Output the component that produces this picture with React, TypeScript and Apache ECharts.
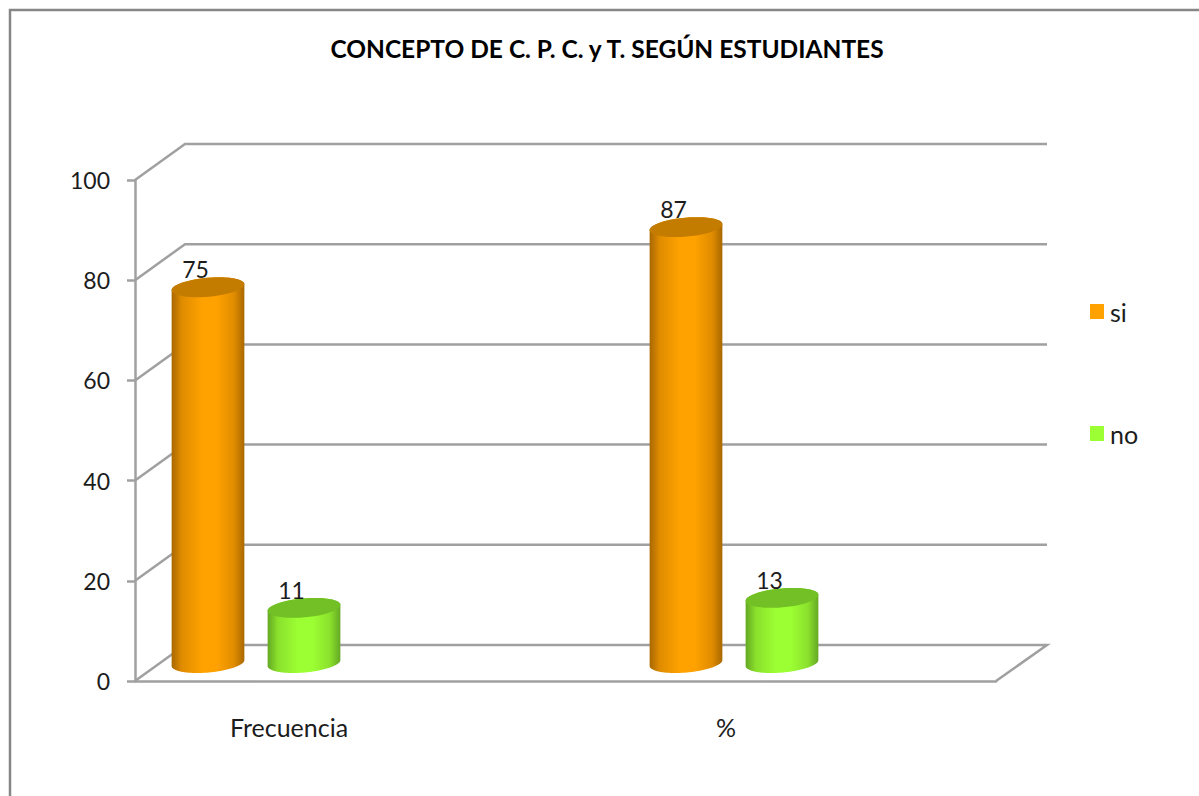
import React, { useEffect, useRef } from "react";
import * as echarts from "echarts";

const title = "CONCEPTO DE C. P. C. y T. SEGÚN ESTUDIANTES";
const categories = ["Frecuencia", "%"];
const siValues = [75, 87];
const noValues = [11, 13];
const yTicks = [0, 20, 40, 60, 80, 100];

const FONT = "Lato";
const TEXT = "#1c1c1c";
const GRID = "#a0a0a0";
const DEPTH_X = 50;
const DEPTH_Y = 36;
const RX = 36.5;
const RY = 9.5;
const TILT = (5 * Math.PI) / 180;
const STEPS = 48;

// A point on the tilted rim of a cylinder centred on (cx, cy).
function rim(cx: number, cy: number, t: number) {
  const ex = RX * Math.cos(t);
  const ey = RY * Math.sin(t);
  return [cx + ex * Math.cos(TILT) + ey * Math.sin(TILT), cy - ex * Math.sin(TILT) + ey * Math.cos(TILT)];
}
function rimArc(cx: number, cy: number, from: number, to: number) {
  const pts: number[][] = [];
  for (let k = 0; k <= STEPS; k++) pts.push(rim(cx, cy, from + ((to - from) * k) / STEPS));
  return pts;
}

function cylinderSeries(
  name: string,
  values: number[],
  offset: number,
  edge: string,
  shoulder: string,
  mid: string,
  top: string,
) {
  return {
    type: "custom",
    name,
    xAxisIndex: 1,
    yAxisIndex: 1,
    clip: false,
    itemStyle: { color: mid },
    encode: { x: 0, y: 1 },
    data: values.map((v, i) => [i, v]),
    renderItem: (_p: any, api: any) => {
      const i = api.value(0);
      const v = api.value(1);
      const [x, y] = api.coord([i, v]);
      const [, y0] = api.coord([i, 0]);
      const cx = x + offset;
      const topY = y - DEPTH_Y / 2;
      const botY = y0 - DEPTH_Y / 2;
      // Right end of the bottom rim, round its front, then back up over the top rim.
      const body = [...rimArc(cx, botY, 0, Math.PI), ...rimArc(cx, topY, Math.PI, 2 * Math.PI)];
      return {
        type: "group",
        children: [
          {
            type: "polygon",
            shape: { points: body },
            style: {
              fill: new echarts.graphic.LinearGradient(0, 0, 1, 0, [
                { offset: 0, color: edge },
                { offset: 0.14, color: shoulder },
                { offset: 0.42, color: mid },
                { offset: 0.62, color: mid },
                { offset: 0.86, color: shoulder },
                { offset: 1, color: edge },
              ]),
            },
          },
          {
            type: "polygon",
            shape: { points: rimArc(cx, topY, 0, 2 * Math.PI) },
            style: { fill: top },
          },
          {
            type: "text",
            style: {
              x: cx - 12.5,
              y: topY - 18,
              text: String(v),
              fill: TEXT,
              font: `23px ${FONT}`,
              align: "center",
              verticalAlign: "middle",
            },
          },
        ],
      };
    },
  };
}

export default function App() {
  const ref = useRef<HTMLDivElement>(null);
  useEffect(() => {
    document.body.style.margin = "0";
    document.documentElement.style.overflow = "hidden";
    const chart = echarts.init(ref.current!, undefined, { renderer: "svg" });
    const top = 180;
    const height = 501;
    chart.setOption({
      animation: false,
      backgroundColor: "#ffffff",
      textStyle: { fontFamily: FONT },
      title: {
        text: title,
        left: 602,
        top: 31,
        textAlign: "center",
        textStyle: { fontFamily: FONT, fontSize: 24.5, fontWeight: "bold", color: "#000000" },
      },
      legend: {
        orient: "vertical",
        left: 1085,
        top: 294,
        itemWidth: 14,
        itemHeight: 15,
        itemGap: 97,
        icon: "rect",
        selectedMode: false,
        data: ["si", "no"],
        textStyle: { fontFamily: FONT, fontSize: 25, color: TEXT, padding: [0, 0, 0, 1] },
      },
      grid: [
        { left: 135, top, width: 861, height },
        { left: 17, top, width: 956, height },
        { left: 70.5, top, width: 874, height },
      ],
      xAxis: [
        {
          type: "category",
          gridIndex: 0,
          data: categories,
          axisLine: { show: true, lineStyle: { color: GRID, width: 2.5 } },
          axisTick: { show: false },
          axisLabel: { show: false },
        },
        {
          type: "category",
          gridIndex: 1,
          data: categories,
          axisLine: { show: false },
          axisTick: { show: false },
          axisLabel: { show: false },
        },
        {
          type: "category",
          gridIndex: 2,
          data: categories,
          axisLine: { show: false },
          axisTick: { show: false },
          axisLabel: { show: true, margin: 33, fontFamily: FONT, fontSize: 25, color: TEXT },
        },
      ],
      yAxis: [
        {
          type: "value",
          gridIndex: 0,
          min: 0,
          max: 100,
          interval: 20,
          splitLine: { show: false },
          axisLine: { show: true, lineStyle: { color: GRID, width: 2.5 } },
          axisTick: { show: true, length: 8, lineStyle: { color: GRID, width: 2.5 } },
          axisLabel: { margin: 25, fontFamily: FONT, fontSize: 23, color: TEXT },
        },
        ...[1, 2].map((g) => ({
          type: "value",
          gridIndex: g,
          min: 0,
          max: 100,
          interval: 20,
          show: false,
          splitLine: { show: false },
        })),
      ],
      series: [
        {
          type: "custom",
          name: "frame",
          xAxisIndex: 0,
          yAxisIndex: 0,
          clip: false,
          silent: true,
          encode: { x: 0, y: 1 },
          data: yTicks.map((v) => [0, v]),
          renderItem: (params: any, api: any) => {
            const v = api.value(1);
            const [, y] = api.coord([0, v]);
            const left = params.coordSys.x;
            const right = left + params.coordSys.width;
            const points = [
              [left, y],
              [left + DEPTH_X, y - DEPTH_Y],
              [right + DEPTH_X + 1, y - DEPTH_Y],
            ];
            if (v === yTicks[0]) points.push([right, y]);
            return {
              type: "polyline",
              shape: { points },
              style: { stroke: GRID, lineWidth: 2.5, fill: "none" },
            };
          },
        },
        cylinderSeries("si", siValues, -48, "#a86800", "#e08c00", "#ffa200", "#c47c00"),
        cylinderSeries("no", noValues, 48, "#64a824", "#8ae02c", "#9cff33", "#72c025"),
      ],
      graphic: [
        {
          type: "polyline",
          shape: { points: [[10, 800], [10, 10], [1199, 10]] },
          style: { stroke: "#868686", lineWidth: 2.5, fill: "none" },
        },
      ],
    });
    return () => chart.dispose();
  }, []);
  return <div ref={ref} style={{ width: 1199, height: 796 }} />;
}
